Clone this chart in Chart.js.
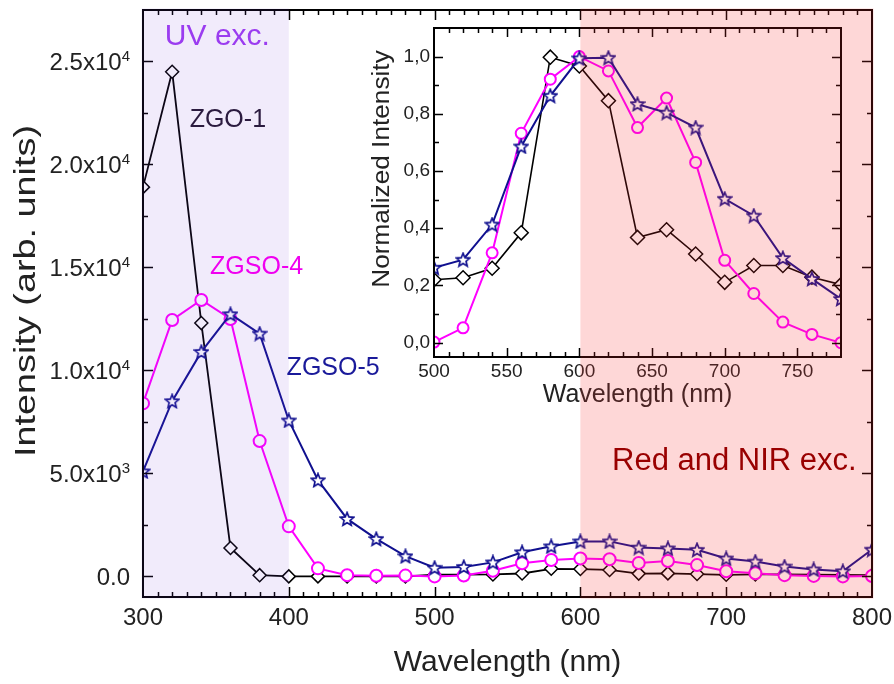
<!DOCTYPE html>
<html>
<head>
<meta charset="utf-8">
<script src="https://cdn.jsdelivr.net/npm/chart.js@4.4.1/dist/chart.umd.min.js"></script>
<style>
  html, body { margin: 0; padding: 0; background: #fff; }
  #wrap { position: relative; width: 894px; height: 684px; }
  #mainChart { position: absolute; left: 0; top: 0; }
  #insetBox { position: absolute; left: 355px; top: 15px; width: 495px; height: 400px; }
</style>
</head>
<body>
<div id="wrap">
  <canvas id="mainChart" width="894" height="684"></canvas>
  <div id="insetBox"><canvas id="insetChart" width="495" height="400"></canvas></div>
</div>
<script>
// main panel: excitation intensity vs wavelength
const wavelengths = [300, 320, 340, 360, 380, 400, 420, 440, 460, 480, 500, 520, 540,
  560, 580, 600, 620, 640, 660, 680, 700, 720, 740, 760, 780, 800];
const zgo1 = [18900, 24500, 12300, 1380, 60, 0, 0, 0, 0, 0, 80, 84, 96,
  142, 370, 358, 313, 136, 146, 115, 78, 100, 100, 85, 75, 60];
const zgso4 = [8400, 12450, 13420, 12500, 6570, 2430, 390, 60, 30, 40, 0, 45, 275,
  640, 800, 870, 830, 655, 745, 550, 250, 150, 60, 25, 0, 20];
const zgso5 = [5100, 8510, 10900, 12730, 11790, 7570, 4670, 2790, 1820, 980, 420, 460, 680,
  1170, 1460, 1700, 1700, 1400, 1360, 1290, 870, 720, 480, 340, 250, 1300];

// inset: normalized intensity
const insetWavelengths = [500, 520, 540, 560, 580, 600, 620, 640, 660, 680, 700, 720, 740, 760, 780];
const insetZgo1 = [0.22, 0.227, 0.26, 0.384, 0.998, 0.967, 0.846, 0.368, 0.395, 0.31, 0.211, 0.27, 0.27, 0.229, 0.203];
const insetZgso4 = [0.002, 0.052, 0.314, 0.732, 0.921, 1.0, 0.95, 0.752, 0.855, 0.63, 0.288, 0.172, 0.072, 0.029, 0.0];
const insetZgso5 = [0.262, 0.29, 0.413, 0.686, 0.863, 0.994, 0.996, 0.834, 0.804, 0.752, 0.503, 0.444, 0.296, 0.223, 0.153];

// ticks
const xTickValues = [300, 400, 500, 600, 700, 800];
const yTickValues = [0, 5000, 10000, 15000, 20000, 25000];
const yTickLabels = ['0.0', '5.0x10³', '1.0x10⁴', '1.5x10⁴', '2.0x10⁴', '2.5x10⁴'];
const insetXTickValues = [500, 550, 600, 650, 700, 750];
const insetYTickValues = [0, 0.2, 0.4, 0.6, 0.8, 1.0];
const insetYTickLabels = ['0,0', '0,2', '0,4', '0,6', '0,8', '1,0'];

// shaded excitation bands
const uvRange = [300, 400];
const redRange = [600, 800];

const FONT = '"Liberation Sans", Arial, sans-serif';
const TEXT = '#222';
const BLACK = '#000000';
const MAGENTA = '#ff00ff';
const NAVY = '#10108f';
const UV_SHADE = 'rgba(120, 60, 220, 0.1)';
const RED_SHADE = 'rgba(250, 40, 40, 0.19)';

Chart.defaults.font.family = FONT;
Chart.defaults.color = TEXT;

function toPoints(xs, ys) {
  return xs.map((x, i) => ({ x: x, y: ys[i] }));
}

// five pointed outline star, used as marker
function starImage(size, color) {
  const c = document.createElement('canvas');
  c.width = size;
  c.height = size;
  const g = c.getContext('2d');
  const cx = size / 2, cy = size / 2 + 0.5;
  const R = size / 2 - 1, r = R * 0.45;
  g.beginPath();
  for (let i = 0; i < 10; i++) {
    const ang = -Math.PI / 2 + i * Math.PI / 5;
    const rad = i % 2 === 0 ? R : r;
    g.lineTo(cx + rad * Math.cos(ang), cy + rad * Math.sin(ang));
  }
  g.closePath();
  g.fillStyle = '#fff';
  g.fill();
  g.lineWidth = 1.7;
  g.strokeStyle = color;
  g.stroke();
  return c;
}

// box with inward ticks on all four sides
function drawFrame(ctx, area, xs, ys, t) {
  ctx.save();
  ctx.strokeStyle = '#000';
  ctx.lineWidth = 2;
  ctx.strokeRect(area.left, area.top, area.right - area.left, area.bottom - area.top);
  ctx.lineWidth = 1.5;
  ctx.beginPath();
  for (let i = 1; ; i++) {
    const v = xs.min + i * t.xMinor;
    if (v >= xs.max - 1e-9) break;
    const len = Math.abs(v / t.xMajor - Math.round(v / t.xMajor)) < 1e-6 ? t.major : t.minor;
    const px = Math.round(xs.getPixelForValue(v)) + 0.5;
    ctx.moveTo(px, area.bottom); ctx.lineTo(px, area.bottom - len);
    ctx.moveTo(px, area.top); ctx.lineTo(px, area.top + len);
  }
  const yStart = Math.ceil(ys.min / t.yMinor);
  for (let i = yStart; ; i++) {
    const v = i * t.yMinor;
    if (v >= ys.max - 1e-9) break;
    if (v <= ys.min + 1e-9) continue;
    const len = Math.abs(v / t.yMajor - Math.round(v / t.yMajor)) < 1e-6 ? t.major : t.minor;
    const py = Math.round(ys.getPixelForValue(v)) + 0.5;
    ctx.moveTo(area.left, py); ctx.lineTo(area.left + len, py);
    ctx.moveTo(area.right, py); ctx.lineTo(area.right - len, py);
  }
  ctx.stroke();
  ctx.restore();
}

// rotated axis title, a little stretched along its length like the original
function drawYTitle(ctx, text, cx, cy, size, stretch) {
  ctx.save();
  ctx.translate(cx, cy);
  ctx.rotate(-Math.PI / 2);
  ctx.scale(stretch, 1);
  ctx.font = size + 'px ' + FONT;
  ctx.fillStyle = TEXT;
  ctx.textAlign = 'center';
  ctx.textBaseline = 'middle';
  ctx.fillText(text, 0, 0);
  ctx.restore();
}

const SUP = '⁰¹²³⁴⁵⁶⁷⁸⁹';

// y tick labels with a real raised exponent
function drawYTickLabels(ctx, ys, right) {
  ctx.save();
  ctx.fillStyle = TEXT;
  ctx.textBaseline = 'alphabetic';
  ctx.textAlign = 'left';
  yTickValues.forEach((v, i) => {
    const label = yTickLabels[i];
    let base = label, exp = '';
    while (base.length && SUP.indexOf(base[base.length - 1]) >= 0) {
      exp = SUP.indexOf(base[base.length - 1]) + exp;
      base = base.slice(0, -1);
    }
    const py = ys.getPixelForValue(v) + 8.5;
    ctx.font = '15px ' + FONT;
    const ew = exp ? ctx.measureText(exp).width : 0;
    ctx.font = '24px ' + FONT;
    const bw = ctx.measureText(base).width;
    ctx.fillText(base, right - ew - bw, py);
    if (exp) {
      ctx.font = '15px ' + FONT;
      ctx.fillText(exp, right - ew, py - 9);
    }
  });
  ctx.restore();
}

const star = starImage(16, NAVY);

/*********************************************/

const mainDecor = {
  id: 'mainDecor',
  afterDraw(chart) {
    const { ctx, chartArea: a, scales: { x, y } } = chart;
    drawFrame(ctx, a, x, y, { xMinor: 10, xMajor: 100, yMinor: 2500, yMajor: 5000, major: 10, minor: 5 });

    ctx.save();
    const u0 = x.getPixelForValue(uvRange[0]), u1 = x.getPixelForValue(uvRange[1]);
    ctx.fillStyle = UV_SHADE;
    ctx.fillRect(u0 - 1.5, a.top - 1.5, u1 - u0 + 1.5, a.bottom - a.top + 3);
    const r0 = x.getPixelForValue(redRange[0]), r1 = x.getPixelForValue(redRange[1]);
    ctx.fillStyle = RED_SHADE;
    ctx.fillRect(r0, a.top - 1.5, r1 - r0 + 1.5, a.bottom - a.top + 3);

    // text labels, anchored in data coordinates
    const labels = [
      { text: 'UV exc.', x: 315, y: 26200, color: '#9b3cf0', size: 30 },
      { text: 'ZGO-1', x: 332, y: 22130, color: '#2b1b3f', size: 25 },
      { text: 'ZGSO-4', x: 346, y: 15030, color: '#f000f0', size: 25 },
      { text: 'ZGSO-5', x: 398.5, y: 10117, color: '#1a1a9a', size: 25 },
      { text: 'Red and NIR exc.', x: 621.7, y: 5593, color: '#990000', size: 31 }
    ];
    ctx.textBaseline = 'middle';
    ctx.textAlign = 'left';
    labels.forEach(l => {
      ctx.font = l.size + 'px ' + FONT;
      ctx.fillStyle = l.color;
      ctx.fillText(l.text, x.getPixelForValue(l.x), y.getPixelForValue(l.y));
    });
    ctx.restore();

    drawYTickLabels(ctx, y, a.left - 13);
    drawYTitle(ctx, 'Intensity (arb. units)', a.left - 116, a.top + 281, 30, 1.26);
  }
};

function mainChart() {
  const data = {
    datasets: [
      {
        label: 'ZGO-1',
        data: toPoints(wavelengths, zgo1),
        borderColor: BLACK,
        borderWidth: 1.8,
        pointStyle: 'rectRot',
        pointRadius: 6.5,
        pointBorderWidth: 1.5,
        pointBorderColor: BLACK,
        pointBackgroundColor: '#fff',
        order: 3
      },
      {
        label: 'ZGSO-4',
        data: toPoints(wavelengths, zgso4),
        borderColor: MAGENTA,
        borderWidth: 2,
        pointStyle: 'circle',
        pointRadius: 6,
        pointBorderWidth: 2,
        pointBorderColor: MAGENTA,
        pointBackgroundColor: '#fff',
        order: 2
      },
      {
        label: 'ZGSO-5',
        data: toPoints(wavelengths, zgso5),
        borderColor: NAVY,
        borderWidth: 2,
        pointStyle: star,
        pointRadius: 7,
        order: 1
      }
    ]
  };

  const options = {
    responsive: false,
    animation: false,
    devicePixelRatio: 1,
    layout: { padding: { top: 10, right: 22, left: 0, bottom: 0 } },
    datasets: { line: { clip: 0, tension: 0 } },
    scales: {
      x: {
        type: 'linear',
        min: 300,
        max: 800,
        afterBuildTicks: s => { s.ticks = xTickValues.map(v => ({ value: v })); },
        afterFit: s => { s.height = 87; s.paddingLeft = 0; s.paddingRight = 0; },
        grid: { display: false, drawTicks: false },
        border: { display: false },
        ticks: { font: { size: 24 }, color: TEXT, padding: 7, maxRotation: 0, autoSkip: false },
        title: { display: true, text: 'Wavelength (nm)', font: { size: 30 }, color: TEXT, padding: { top: 0, bottom: 3 } }
      },
      y: {
        type: 'linear',
        min: -1000,
        max: 27500,
        afterBuildTicks: s => { s.ticks = yTickValues.map(v => ({ value: v })); },
        afterFit: s => { s.width = 143; s.paddingTop = 0; s.paddingBottom = 0; },
        grid: { display: false, drawTicks: false },
        border: { display: false },
        ticks: { display: false },
        title: { display: false }
      }
    },
    plugins: { legend: { display: false }, tooltip: { enabled: false } }
  };

  return new Chart(document.getElementById('mainChart'), {
    type: 'line',
    data,
    options,
    plugins: [mainDecor]
  });
}

/*********************************************/

const insetDecor = {
  id: 'insetDecor',
  beforeDraw(chart) {
    const { ctx, chartArea: a } = chart;
    ctx.save();
    ctx.fillStyle = '#fff';
    ctx.fillRect(a.left, a.top, a.right - a.left, a.bottom - a.top);
    ctx.restore();
  },
  afterDraw(chart) {
    const { ctx, chartArea: a, scales: { x, y } } = chart;
    drawFrame(ctx, a, x, y, { xMinor: 10, xMajor: 50, yMinor: 0.1, yMajor: 0.2, major: 9, minor: 5 });
    drawYTitle(ctx, 'Normalized Intensity', a.left - 51, a.top + 141, 23, 1.14);

    // the red band of the main panel continues over the inset
    const main = Chart.getChart('mainChart');
    const box = document.getElementById('insetBox');
    const px = main.scales.x.getPixelForValue(redRange[0]) - box.offsetLeft;
    ctx.save();
    ctx.globalCompositeOperation = 'source-atop';
    ctx.fillStyle = RED_SHADE;
    ctx.fillRect(px, 0, chart.width - px, chart.height);
    ctx.restore();
  }
};

function insetChart() {
  const data = {
    datasets: [
      {
        label: 'ZGO-1',
        data: toPoints(insetWavelengths, insetZgo1),
        borderColor: BLACK,
        borderWidth: 1.6,
        pointStyle: 'rectRot',
        pointRadius: 7,
        pointBorderWidth: 1.5,
        pointBorderColor: BLACK,
        pointBackgroundColor: '#fff',
        order: 3
      },
      {
        label: 'ZGSO-4',
        data: toPoints(insetWavelengths, insetZgso4),
        borderColor: MAGENTA,
        borderWidth: 2,
        pointStyle: 'circle',
        pointRadius: 5.5,
        pointBorderWidth: 2,
        pointBorderColor: MAGENTA,
        pointBackgroundColor: '#fff',
        order: 2
      },
      {
        label: 'ZGSO-5',
        data: toPoints(insetWavelengths, insetZgso5),
        borderColor: NAVY,
        borderWidth: 2,
        pointStyle: star,
        pointRadius: 7,
        order: 1
      }
    ]
  };

  const options = {
    responsive: false,
    animation: false,
    devicePixelRatio: 1,
    layout: { padding: { top: 13, right: 8, left: 0, bottom: 0 } },
    datasets: { line: { clip: 0, tension: 0 } },
    scales: {
      x: {
        type: 'linear',
        min: 500,
        max: 780,
        afterBuildTicks: s => { s.ticks = insetXTickValues.map(v => ({ value: v })); },
        afterFit: s => { s.height = 58; s.paddingLeft = 0; s.paddingRight = 0; },
        grid: { display: false, drawTicks: false },
        border: { display: false },
        ticks: { font: { size: 19 }, color: TEXT, padding: 3, maxRotation: 0, autoSkip: false },
        title: { display: true, text: 'Wavelength (nm)', font: { size: 25 }, color: TEXT, padding: { top: 0, bottom: 5 } }
      },
      y: {
        type: 'linear',
        min: -0.05,
        max: 1.1,
        afterBuildTicks: s => { s.ticks = insetYTickValues.map(v => ({ value: v })); },
        afterFit: s => { s.width = 79; s.paddingTop = 0; s.paddingBottom = 0; },
        grid: { display: false, drawTicks: false },
        border: { display: false },
        ticks: {
          font: { size: 19 },
          color: TEXT,
          padding: 4,
          callback: v => insetYTickLabels[insetYTickValues.indexOf(v)]
        },
        title: { display: false }
      }
    },
    plugins: { legend: { display: false }, tooltip: { enabled: false } }
  };

  return new Chart(document.getElementById('insetChart'), {
    type: 'line',
    data,
    options,
    plugins: [insetDecor]
  });
}

/************** To Run Chart Functions *************/
mainChart();
insetChart();
</script>
</body>
</html>
